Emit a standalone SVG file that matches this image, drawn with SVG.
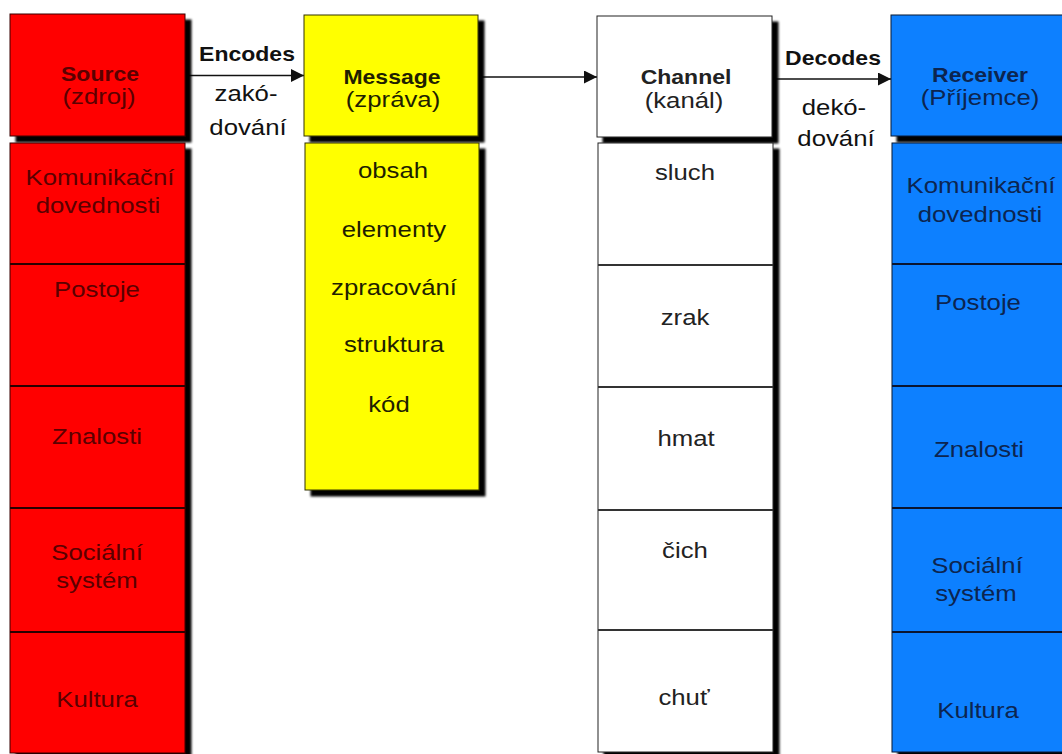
<svg xmlns="http://www.w3.org/2000/svg" width="1062" height="754" viewBox="0 0 1062 754">
<defs>
<filter id="sh" x="-10%" y="-10%" width="130%" height="130%">
<feDropShadow dx="6" dy="6" stdDeviation="1.2" flood-color="#000" flood-opacity="1"/>
</filter>
<marker id="ah" markerUnits="userSpaceOnUse" markerWidth="14" markerHeight="14" refX="13" refY="6.5" orient="auto">
<path d="M0,0 L13,6.5 L0,13 z" fill="#111"/>
</marker>
<style>
text{font-family:"Liberation Sans",Arial,sans-serif;text-anchor:middle}
.t{font-size:23px}
.h{font-size:20px;font-weight:bold}
.red{fill:#ff0000;stroke:#3a0000;stroke-width:1}
.yel{fill:#ffff00;stroke:#333300;stroke-width:1}
.wht{fill:#ffffff;stroke:#222;stroke-width:1}
.blu{fill:#0a80ff;stroke:#0a1a33;stroke-width:1}
.sepr{stroke:#2a0000;stroke-width:2}
.sepw{stroke:#333;stroke-width:2}
.sepb{stroke:#0a1530;stroke-width:2}
.tr{fill:#5a0000}
.ty{fill:#1f1f00}
.tw{fill:#222}
.tb{fill:#0c2550}
.lbl{fill:#111}
.conn{stroke:#111;stroke-width:1.5;fill:none}
</style>
</defs>
<rect width="1062" height="754" fill="#fff"/>

<g id="connectors">
<line class="conn" x1="185" y1="75.5" x2="304" y2="75.5" marker-end="url(#ah)"/>
<line class="conn" x1="478" y1="77" x2="597" y2="77" marker-end="url(#ah)"/>
<line class="conn" x1="772" y1="79" x2="891" y2="79" marker-end="url(#ah)"/>
<text class="h lbl" transform="translate(247,61) scale(1.15,1)">Encodes</text>
<text class="t lbl" transform="translate(246,101) scale(1.12,1)">zakó-</text>
<text class="t lbl" transform="translate(248,135) scale(1.12,1)">dování</text>
<text class="h lbl" transform="translate(833,65) scale(1.15,1)">Decodes</text>
<text class="t lbl" transform="translate(834,115) scale(1.12,1)">dekó-</text>
<text class="t lbl" transform="translate(836,146) scale(1.12,1)">dování</text>
</g>

<g id="source">
<rect class="red" x="10" y="14" width="175" height="122" filter="url(#sh)"/>
<text class="h tr" transform="translate(100,81) scale(1.15,1)">Source</text>
<text class="t tr" transform="translate(99,104) scale(1.12,1)">(zdroj)</text>
</g>
<g id="source-attrs">
<rect class="red" x="10" y="143" width="175" height="610" filter="url(#sh)"/>
<line class="sepr" x1="10" y1="264" x2="185" y2="264"/>
<line class="sepr" x1="10" y1="386" x2="185" y2="386"/>
<line class="sepr" x1="10" y1="508" x2="185" y2="508"/>
<line class="sepr" x1="10" y1="632" x2="185" y2="632"/>
<text class="t tr" transform="translate(100,185) scale(1.12,1)">Komunikační</text>
<text class="t tr" transform="translate(98,213) scale(1.12,1)">dovednosti</text>
<text class="t tr" transform="translate(97,297) scale(1.12,1)">Postoje</text>
<text class="t tr" transform="translate(97,444) scale(1.12,1)">Znalosti</text>
<text class="t tr" transform="translate(97,560) scale(1.12,1)">Sociální</text>
<text class="t tr" transform="translate(97,588) scale(1.12,1)">systém</text>
<text class="t tr" transform="translate(97,707) scale(1.12,1)">Kultura</text>
</g>

<g id="message">
<rect class="yel" x="304" y="15" width="174" height="121" filter="url(#sh)"/>
<text class="h ty" transform="translate(392,84) scale(1.15,1)">Message</text>
<text class="t ty" transform="translate(393,107) scale(1.12,1)">(zpráva)</text>
</g>
<g id="message-attrs">
<rect class="yel" x="305" y="143" width="174" height="347" filter="url(#sh)"/>
<text class="t ty" transform="translate(393,178) scale(1.12,1)">obsah</text>
<text class="t ty" transform="translate(394,237) scale(1.12,1)">elementy</text>
<text class="t ty" transform="translate(394,295) scale(1.12,1)">zpracování</text>
<text class="t ty" transform="translate(394,352) scale(1.12,1)">struktura</text>
<text class="t ty" transform="translate(389,412) scale(1.12,1)">kód</text>
</g>

<g id="channel">
<rect class="wht" x="597" y="16" width="175" height="121" filter="url(#sh)"/>
<text class="h tw" transform="translate(686,84) scale(1.15,1)">Channel</text>
<text class="t tw" transform="translate(684,108) scale(1.12,1)">(kanál)</text>
</g>
<g id="channel-attrs">
<rect class="wht" x="598" y="143" width="175" height="609" filter="url(#sh)"/>
<line class="sepw" x1="598" y1="265" x2="773" y2="265"/>
<line class="sepw" x1="598" y1="387" x2="773" y2="387"/>
<line class="sepw" x1="598" y1="510" x2="773" y2="510"/>
<line class="sepw" x1="598" y1="630" x2="773" y2="630"/>
<text class="t tw" transform="translate(685,180) scale(1.12,1)">sluch</text>
<text class="t tw" transform="translate(685,325) scale(1.12,1)">zrak</text>
<text class="t tw" transform="translate(686,446) scale(1.12,1)">hmat</text>
<text class="t tw" transform="translate(685,558) scale(1.12,1)">čich</text>
<text class="t tw" transform="translate(684,705) scale(1.12,1)">chuť</text>
</g>

<g id="receiver">
<rect class="blu" x="891" y="15" width="176" height="121" filter="url(#sh)"/>
<text class="h tb" transform="translate(980,82) scale(1.15,1)">Receiver</text>
<text class="t tb" transform="translate(980,105) scale(1.12,1)">(Příjemce)</text>
</g>
<g id="receiver-attrs">
<rect class="blu" x="892" y="143" width="176" height="609" filter="url(#sh)"/>
<line class="sepb" x1="892" y1="264" x2="1062" y2="264"/>
<line class="sepb" x1="892" y1="386" x2="1062" y2="386"/>
<line class="sepb" x1="892" y1="508" x2="1062" y2="508"/>
<line class="sepb" x1="892" y1="632" x2="1062" y2="632"/>
<text class="t tb" transform="translate(981,193) scale(1.12,1)">Komunikační</text>
<text class="t tb" transform="translate(980,222) scale(1.12,1)">dovednosti</text>
<text class="t tb" transform="translate(978,310) scale(1.12,1)">Postoje</text>
<text class="t tb" transform="translate(979,457) scale(1.12,1)">Znalosti</text>
<text class="t tb" transform="translate(977,573) scale(1.12,1)">Sociální</text>
<text class="t tb" transform="translate(976,601) scale(1.12,1)">systém</text>
<text class="t tb" transform="translate(978,718) scale(1.12,1)">Kultura</text>
</g>
</svg>
